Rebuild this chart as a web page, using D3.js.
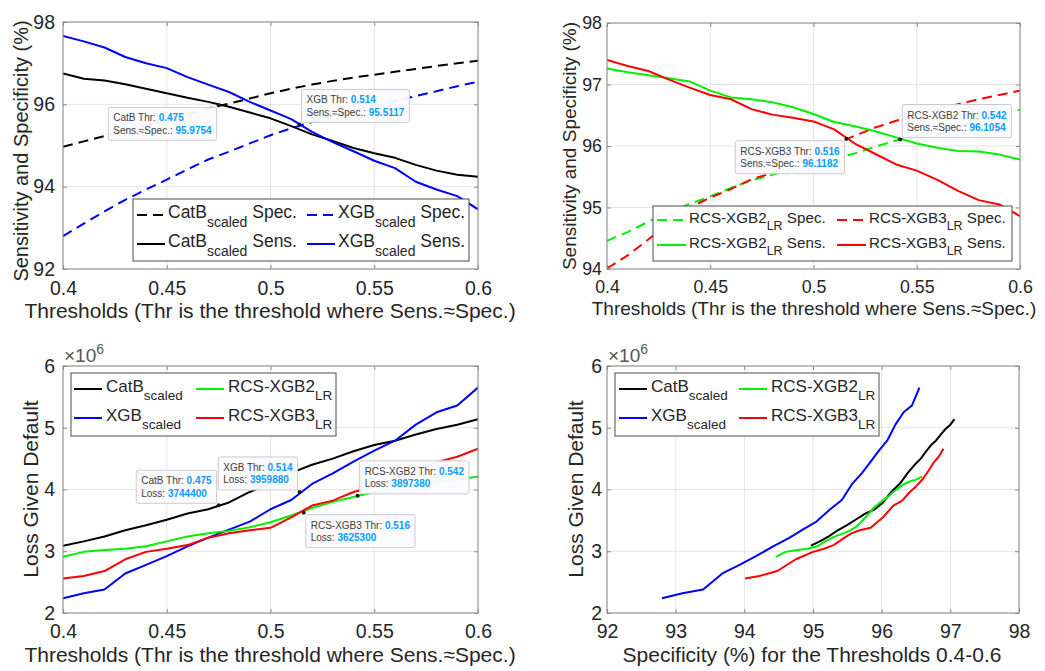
<!DOCTYPE html>
<html>
<head>
<meta charset="utf-8">
<script src="https://cdn.jsdelivr.net/npm/d3@7"></script>
<style>
  body { margin: 0; background: #fff; }
  svg { display: block; }
  text { white-space: pre; }
</style>
</head>
<body>
<svg id="chart" width="1045" height="671"></svg>
<script>
// ---- data -------------------------------------------------------------
const thresholds = [0.40, 0.41, 0.42, 0.43, 0.44, 0.45, 0.46, 0.47, 0.48, 0.49, 0.50,
                    0.51, 0.52, 0.53, 0.54, 0.55, 0.56, 0.57, 0.58, 0.59, 0.60];

// specificity / sensitivity (%) per threshold
const catbSpec = [94.97, 95.10, 95.23, 95.36, 95.49, 95.62, 95.76, 95.90, 96.02, 96.14, 96.27,
                  96.38, 96.48, 96.57, 96.65, 96.72, 96.79, 96.86, 96.93, 97.00, 97.06];
const catbSens = [96.75, 96.62, 96.58, 96.49, 96.38, 96.27, 96.16, 96.06, 95.94, 95.80, 95.66,
                  95.47, 95.27, 95.11, 94.94, 94.81, 94.70, 94.53, 94.39, 94.29, 94.24];
const xgbSpec  = [92.80, 93.10, 93.40, 93.68, 93.93, 94.17, 94.42, 94.66, 94.85, 95.05, 95.25,
                  95.42, 95.57, 95.71, 95.84, 95.96, 96.08, 96.20, 96.32, 96.44, 96.55];
const xgbSens  = [97.66, 97.53, 97.38, 97.15, 97.00, 96.88, 96.66, 96.48, 96.30, 96.06, 95.85,
                  95.64, 95.33, 95.08, 94.86, 94.63, 94.45, 94.12, 93.93, 93.77, 93.45];
const rcs2Spec = [94.46, 94.60, 94.77, 94.92, 95.06, 95.18, 95.32, 95.44, 95.53, 95.62, 95.70,
                  95.79, 95.88, 95.99, 96.09, 96.17, 96.25, 96.33, 96.41, 96.50, 96.59];
const rcs2Sens = [97.26, 97.20, 97.15, 97.10, 97.05, 96.90, 96.79, 96.76, 96.71, 96.63, 96.52,
                  96.39, 96.32, 96.24, 96.14, 96.04, 95.97, 95.92, 95.91, 95.86, 95.78];
const rcs3Spec = [94.01, 94.22, 94.48, 94.75, 95.00, 95.16, 95.30, 95.46, 95.56, 95.68, 95.84,
                  96.02, 96.17, 96.30, 96.41, 96.50, 96.60, 96.68, 96.76, 96.83, 96.90];
const rcs3Sens = [97.40, 97.30, 97.22, 97.08, 96.95, 96.83, 96.76, 96.60, 96.51, 96.46, 96.40,
                  96.27, 96.04, 95.87, 95.70, 95.60, 95.45, 95.27, 95.12, 95.05, 94.86];

// loss given default per threshold
const catbLoss = [3090000, 3160000, 3240000, 3340000, 3420000, 3510000, 3610000, 3680000, 3790000, 3960000, 4100000,
                  4270000, 4400000, 4500000, 4620000, 4720000, 4790000, 4890000, 4980000, 5050000, 5140000];
const xgbLoss  = [2240000, 2320000, 2380000, 2640000, 2780000, 2920000, 3080000, 3220000, 3350000, 3480000, 3680000,
                  3830000, 4090000, 4260000, 4450000, 4630000, 4790000, 5050000, 5250000, 5360000, 5650000];
const rcs2Loss = [2910000, 2990000, 3020000, 3040000, 3080000, 3160000, 3240000, 3290000, 3330000, 3390000, 3470000,
                  3580000, 3700000, 3800000, 3880000, 3960000, 4030000, 4090000, 4130000, 4160000, 4210000];
const rcs3Loss = [2560000, 2600000, 2680000, 2870000, 2990000, 3040000, 3100000, 3220000, 3290000, 3340000, 3380000,
                  3550000, 3740000, 3820000, 3960000, 4050000, 4170000, 4300000, 4440000, 4530000, 4660000];

// axis ticks
const thrTicks       = [0.4, 0.45, 0.5, 0.55, 0.6];
const thrTickLabels  = ["0.4", "0.45", "0.5", "0.55", "0.6"];
const sensTicksA     = [92, 94, 96, 98];
const sensTicksB     = [94, 95, 96, 97, 98];
const lossTicks      = [2000000, 3000000, 4000000, 5000000, 6000000];
const lossTickLabels = ["2", "3", "4", "5", "6"];
const specTicks      = [92, 93, 94, 95, 96, 97, 98];

// equal-error-rate markers
const sensTipsA = [
  { name: "CatB", thr: 0.475, val: 95.9754 },
  { name: "XGB",  thr: 0.514, val: 95.5117 }
];
const sensTipsB = [
  { name: "RCS-XGB3", thr: 0.516, val: 96.1182 },
  { name: "RCS-XGB2", thr: 0.542, val: 96.1054 }
];
const lossTips = [
  { name: "CatB",     thr: 0.475, val: 3744400 },
  { name: "XGB",      thr: 0.514, val: 3959880 },
  { name: "RCS-XGB2", thr: 0.542, val: 3897380 },
  { name: "RCS-XGB3", thr: 0.516, val: 3625300 }
];

// ---- drawing ----------------------------------------------------------
const FONT = "Helvetica, Arial, 'Liberation Sans', sans-serif";
const INK = "#262626";
const BOX = "#8c8c8c";
const GRID = "#e4e4e4";
const COL = { catb: "#000000", xgb: "#0000ff", rcs2: "#00f000", rcs3: "#ff0000" };
const DASH = "10,6";

const svg = d3.select("#chart").attr("font-family", FONT);
svg.append("rect").attr("width", 1045).attr("height", 671).attr("fill", "#fff");

let clipId = 0;

function makePanel(p) {
  const x = d3.scaleLinear().domain(p.xDomain).range([p.left, p.left + p.width]);
  const y = d3.scaleLinear().domain(p.yDomain).range([p.top + p.height, p.top]);
  const g = svg.append("g");
  const bottom = p.top + p.height, right = p.left + p.width;

  // grid
  g.append("g").selectAll("line").data(p.xTicks).join("line")
    .attr("x1", d => x(d)).attr("x2", d => x(d))
    .attr("y1", p.top).attr("y2", bottom)
    .attr("stroke", GRID).attr("stroke-width", 1);
  g.append("g").selectAll("line").data(p.yTicks).join("line")
    .attr("y1", d => y(d)).attr("y2", d => y(d))
    .attr("x1", p.left).attr("x2", right)
    .attr("stroke", GRID).attr("stroke-width", 1);

  // series
  const cid = "clip" + (clipId++);
  g.append("clipPath").attr("id", cid).append("rect")
    .attr("x", p.left).attr("y", p.top).attr("width", p.width).attr("height", p.height);
  const lineGen = d3.line().x(d => x(d[0])).y(d => y(d[1]));
  const lines = g.append("g").attr("clip-path", `url(#${cid})`);
  p.series.forEach(s => {
    const pts = s.xs.map((v, i) => [v, s.ys[i]]);
    lines.append("path").datum(pts)
      .attr("d", lineGen)
      .attr("fill", "none")
      .attr("stroke", s.color)
      .attr("stroke-width", 2)
      .attr("stroke-linejoin", "round")
      .attr("stroke-dasharray", s.dash ? DASH : null);
  });

  // axes
  const styleAxis = sel => {
    sel.select(".domain").remove();
    sel.selectAll(".tick line").attr("stroke", BOX);
    sel.selectAll(".tick text").attr("font-size", p.tickFs).attr("fill", INK).attr("font-family", FONT);
  };
  g.append("g").attr("transform", `translate(0,${bottom})`)
    .call(d3.axisBottom(x).tickValues(p.xTicks).tickFormat((d, i) => p.xLabels[i])
      .tickSizeInner(-4).tickSizeOuter(0).tickPadding(p.xPad))
    .call(styleAxis);
  g.append("g").attr("transform", `translate(0,${p.top})`)
    .call(d3.axisTop(x).tickValues(p.xTicks).tickFormat("").tickSizeInner(-4).tickSizeOuter(0))
    .call(styleAxis);
  g.append("g").attr("transform", `translate(${p.left},0)`)
    .call(d3.axisLeft(y).tickValues(p.yTicks).tickFormat((d, i) => p.yLabels[i])
      .tickSizeInner(-4).tickSizeOuter(0).tickPadding(p.yPad))
    .call(styleAxis);
  g.append("g").attr("transform", `translate(${right},0)`)
    .call(d3.axisRight(y).tickValues(p.yTicks).tickFormat("").tickSizeInner(-4).tickSizeOuter(0))
    .call(styleAxis);

  // box
  g.append("rect").attr("x", p.left).attr("y", p.top).attr("width", p.width).attr("height", p.height)
    .attr("fill", "none").attr("stroke", BOX).attr("stroke-width", 1);

  // labels
  g.append("text").attr("x", p.xTitlePos[0]).attr("y", p.xTitlePos[1])
    .attr("text-anchor", "middle").attr("font-size", p.xTitleFs).attr("fill", INK)
    .text(p.xTitle);
  g.append("text")
    .attr("transform", `translate(${p.yTitlePos[0]},${p.yTitlePos[1]}) rotate(-90)`)
    .attr("text-anchor", "middle").attr("font-size", p.yTitleFs).attr("fill", INK)
    .text(p.yTitle);

  if (p.exponent) {
    const t = g.append("text").attr("x", p.exponent[0]).attr("y", p.exponent[1])
      .attr("font-size", 19).attr("fill", "#555");
    t.append("tspan").text("\u00d710");
    t.append("tspan").attr("dy", -8).attr("font-size", 14).text("6");
  }
  return { x, y, g };
}

function legend(l) {
  const g = svg.append("g");
  g.append("rect").attr("x", l.box[0]).attr("y", l.box[1]).attr("width", l.box[2]).attr("height", l.box[3])
    .attr("fill", "#fff").attr("stroke", "#4d4d4d").attr("stroke-width", 1);
  l.items.forEach((it, i) => {
    const cx = l.cols[i % 2], by = l.rows[Math.floor(i / 2)];
    g.append("line").attr("x1", cx).attr("x2", cx + l.lineLen)
      .attr("y1", by - 3).attr("y2", by - 3)
      .attr("stroke", it.color).attr("stroke-width", 2)
      .attr("stroke-dasharray", it.dash ? DASH : null);
    const t = g.append("text").attr("x", cx + l.lineLen + l.gap).attr("y", by)
      .attr("font-size", l.fs).attr("fill", INK);
    t.append("tspan").text(it.name);
    t.append("tspan").attr("dy", l.subDy).attr("font-size", l.subFs).text(it.sub);
    if (it.tail) t.append("tspan").attr("dy", -l.subDy).text(it.tail);
  });
}

function dataTip(panel, tip, label, fmtVal, place) {
  const px = panel.x(tip.thr), py = panel.y(tip.val);
  const g = svg.append("g");
  const rect = g.append("rect");
  const t1 = g.append("text").attr("font-size", 10);
  t1.append("tspan").attr("fill", "#404040").text(`${tip.name} Thr: `);
  t1.append("tspan").attr("fill", "#0a9bff").attr("font-weight", "bold").text(d3.format(".3f")(tip.thr));
  const t2 = g.append("text").attr("font-size", 10);
  t2.append("tspan").attr("fill", "#404040").text(`${label}: `);
  t2.append("tspan").attr("fill", "#0a9bff").attr("font-weight", "bold").text(fmtVal(tip.val));
  const w = Math.max(t1.node().getComputedTextLength(), t2.node().getComputedTextLength()) + 10;
  const h = 33, gap = 2;
  const bx = place[1] === "l" ? px - gap - w : px + gap;
  const by = place[0] === "u" ? py - gap - h : py + gap;
  rect.attr("x", bx).attr("y", by).attr("width", w).attr("height", h).attr("rx", 2)
    .attr("fill", "#fbfbfd").attr("fill-opacity", 0.95)
    .attr("stroke", "#c9cbd3").attr("stroke-width", 1);
  t1.attr("x", bx + 5).attr("y", by + 14);
  t2.attr("x", bx + 5).attr("y", by + 26.5);
  g.append("circle").attr("cx", px).attr("cy", py).attr("r", 2).attr("fill", "#1a1a1a");
}

const sub = "scaled", subLR = "LR";
const thrTitle = "Thresholds (Thr is the threshold where Sens.\u2248Spec.)";
const sensTitle = "Sensitivity and Specificity (%)";
const lossTitle = "Loss Given Default";
const fmtLoss = d3.format("d"), fmtSens = d3.format(".4f");

// top left: CatB / XGB sensitivity and specificity
const pA = makePanel({
  left: 63, top: 22, width: 415, height: 247,
  xDomain: [0.4, 0.6], yDomain: [92, 98],
  xTicks: thrTicks, xLabels: thrTickLabels,
  yTicks: sensTicksA, yLabels: sensTicksA.map(String),
  tickFs: 19.5, xPad: 12, yPad: 8,
  xTitle: thrTitle, xTitleFs: 21, xTitlePos: [270, 318],
  yTitle: sensTitle, yTitleFs: 20, yTitlePos: [28, 151],
  series: [
    { xs: thresholds, ys: catbSpec, color: COL.catb, dash: true },
    { xs: thresholds, ys: xgbSpec,  color: COL.xgb,  dash: true },
    { xs: thresholds, ys: catbSens, color: COL.catb },
    { xs: thresholds, ys: xgbSens,  color: COL.xgb }
  ]
});
dataTip(pA, sensTipsA[0], "Sens.\u2248Spec.", fmtSens, "ll");
dataTip(pA, sensTipsA[1], "Sens.\u2248Spec.", fmtSens, "ur");
legend({
  box: [133, 199, 336, 62], cols: [137, 307], rows: [218, 247], lineLen: 28, gap: 3,
  fs: 17.5, subFs: 14, subDy: 9,
  items: [
    { name: "CatB", sub, tail: " Spec.", color: COL.catb, dash: true },
    { name: "XGB",  sub, tail: " Spec.", color: COL.xgb,  dash: true },
    { name: "CatB", sub, tail: " Sens.", color: COL.catb },
    { name: "XGB",  sub, tail: " Sens.", color: COL.xgb }
  ]
});

// top right: RCS-XGB sensitivity and specificity
const pB = makePanel({
  left: 607, top: 23, width: 413, height: 246,
  xDomain: [0.4, 0.6], yDomain: [94, 98],
  xTicks: thrTicks, xLabels: thrTickLabels,
  yTicks: sensTicksB, yLabels: sensTicksB.map(String),
  tickFs: 17.8, xPad: 11, yPad: 5,
  xTitle: thrTitle, xTitleFs: 19, xTitlePos: [814, 315],
  yTitle: sensTitle, yTitleFs: 19, yTitlePos: [576, 146],
  series: [
    { xs: thresholds, ys: rcs2Spec, color: COL.rcs2, dash: true },
    { xs: thresholds, ys: rcs3Spec, color: COL.rcs3, dash: true },
    { xs: thresholds, ys: rcs2Sens, color: COL.rcs2 },
    { xs: thresholds, ys: rcs3Sens, color: COL.rcs3 }
  ]
});
dataTip(pB, sensTipsB[0], "Sens.\u2248Spec.", fmtSens, "ll");
dataTip(pB, sensTipsB[1], "Sens.\u2248Spec.", fmtSens, "ur");
legend({
  box: [653, 206, 359, 55], cols: [657, 837], rows: [223, 248], lineLen: 29, gap: 3,
  fs: 15.2, subFs: 12.5, subDy: 7,
  items: [
    { name: "RCS-XGB2", sub: subLR, tail: " Spec.", color: COL.rcs2, dash: true },
    { name: "RCS-XGB3", sub: subLR, tail: " Spec.", color: COL.rcs3, dash: true },
    { name: "RCS-XGB2", sub: subLR, tail: " Sens.", color: COL.rcs2 },
    { name: "RCS-XGB3", sub: subLR, tail: " Sens.", color: COL.rcs3 }
  ]
});

// bottom left: loss vs threshold
const pC = makePanel({
  left: 63, top: 366, width: 415, height: 247,
  xDomain: [0.4, 0.6], yDomain: [2000000, 6000000],
  xTicks: thrTicks, xLabels: thrTickLabels,
  yTicks: lossTicks, yLabels: lossTickLabels,
  tickFs: 19.5, xPad: 11, yPad: 8,
  xTitle: thrTitle, xTitleFs: 21, xTitlePos: [270, 662],
  yTitle: lossTitle, yTitleFs: 21, yTitlePos: [38, 489],
  exponent: [64, 362],
  series: [
    { xs: thresholds, ys: catbLoss, color: COL.catb },
    { xs: thresholds, ys: xgbLoss,  color: COL.xgb },
    { xs: thresholds, ys: rcs2Loss, color: COL.rcs2 },
    { xs: thresholds, ys: rcs3Loss, color: COL.rcs3 }
  ]
});
dataTip(pC, lossTips[0], "Loss", fmtLoss, "ul");
dataTip(pC, lossTips[1], "Loss", fmtLoss, "ul");
dataTip(pC, lossTips[2], "Loss", fmtLoss, "ur");
dataTip(pC, lossTips[3], "Loss", fmtLoss, "lr");
const lossLegendItems = [
  { name: "CatB",     sub,        color: COL.catb },
  { name: "RCS-XGB2", sub: subLR, color: COL.rcs2 },
  { name: "XGB",      sub,        color: COL.xgb },
  { name: "RCS-XGB3", sub: subLR, color: COL.rcs3 }
];
legend({ box: [71, 373, 265, 63], cols: [74, 196], rows: [392, 421], lineLen: 28, gap: 4,
         fs: 17, subFs: 13.5, subDy: 8, items: lossLegendItems });

// bottom right: loss vs specificity
const pD = makePanel({
  left: 607, top: 366, width: 412, height: 247,
  xDomain: [92, 98], yDomain: [2000000, 6000000],
  xTicks: specTicks, xLabels: specTicks.map(String),
  yTicks: lossTicks, yLabels: lossTickLabels,
  tickFs: 19.5, xPad: 11, yPad: 5,
  xTitle: "Specificity (%) for the Thresholds 0.4-0.6", xTitleFs: 21, xTitlePos: [812, 662],
  yTitle: lossTitle, yTitleFs: 21, yTitlePos: [583, 489],
  exponent: [608, 362],
  series: [
    { xs: catbSpec, ys: catbLoss, color: COL.catb },
    { xs: xgbSpec,  ys: xgbLoss,  color: COL.xgb },
    { xs: rcs2Spec, ys: rcs2Loss, color: COL.rcs2 },
    { xs: rcs3Spec, ys: rcs3Loss, color: COL.rcs3 }
  ]
});
legend({ box: [615, 373, 264, 63], cols: [619, 739], rows: [392, 421], lineLen: 28, gap: 4,
         fs: 17, subFs: 13.5, subDy: 8, items: lossLegendItems });
</script>
</body>
</html>
